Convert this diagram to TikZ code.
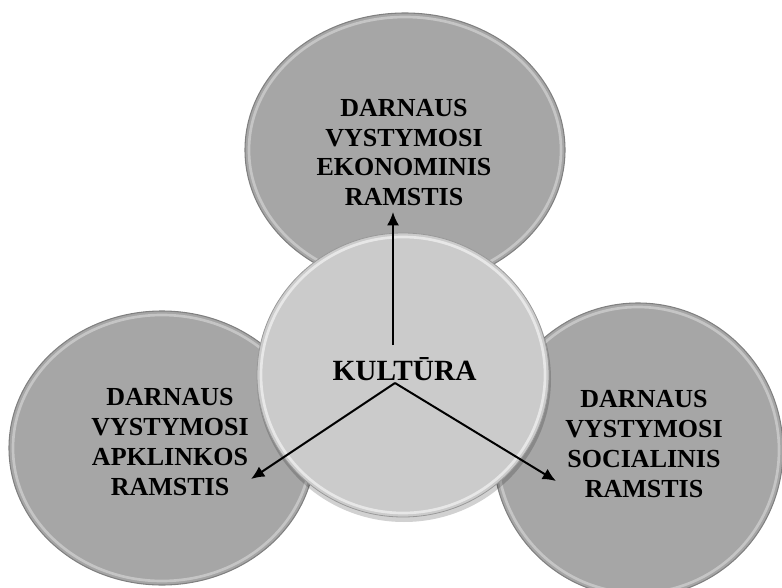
\documentclass[tikz,border=0pt]{standalone}
\usepackage{fontspec}
\setmainfont{Liberation Serif}
\usepackage{tikz}
\usetikzlibrary{arrows.meta}
\definecolor{ramstisgray}{RGB}{166,166,166}
\definecolor{kulturagray}{RGB}{203,203,203}
\definecolor{rimgray}{RGB}{128,128,128}

\begin{document}
\begin{tikzpicture}[>={Latex[length=10pt,width=9pt]}, x=0.75pt, y=-0.75pt,
	ramstis/.style={fill=ramstisgray, draw=rimgray, line width=0.8pt},
	kultura/.style={fill=kulturagray, draw=rimgray!80, line width=0.6pt},
	bevel/.style={draw=white, opacity=0.35, line width=2pt},
	pillar/.style={font=\bfseries\fontsize{19.5}{22.3}\selectfont, align=center, inner sep=0pt},
	link/.style={->, line width=1.5pt}]
%	\draw [help lines] (0,0) grid (782,588);
	\useasboundingbox (0,0) rectangle (782,588);
	\begin{scope}
	\clip (0,0) rectangle (782,588);
	% the three pillars
	\draw [ramstis] (405,150) ellipse [x radius=160, y radius=137];
	\draw [bevel] (405,150) ellipse [x radius=156, y radius=133];
	\draw [ramstis] (162,448) ellipse [x radius=153, y radius=137];
	\draw [bevel] (162,448) ellipse [x radius=149, y radius=133];
	\draw [ramstis] (638,450) ellipse [x radius=145, y radius=147];
	\draw [bevel] (638,450) ellipse [x radius=141, y radius=143];
	% culture in the middle
	\fill [black, opacity=0.18] (404,379) ellipse [x radius=147, y radius=143];
	\draw [kultura] (403,375) ellipse [x radius=146, y radius=142];
	\draw [bevel, opacity=0.55] (403,375) ellipse [x radius=142, y radius=138];
	\end{scope}

	\node [pillar] (ekon) at (404,152.5) {DARNAUS\\VYSTYMOSI\\EKONOMINIS\\RAMSTIS};
	\node [pillar] (aplink) at (170,442) {DARNAUS\\VYSTYMOSI\\APKLINKOS\\RAMSTIS};
	\node [pillar] (social) at (644,444) {DARNAUS\\VYSTYMOSI\\SOCIALINIS\\RAMSTIS};
	\node [font=\bfseries\fontsize{22}{26}\selectfont, inner sep=0pt, anchor=base] (kult) at (404.5,380) {KULTŪRA};

	\coordinate (hubup) at (393,345);
	\coordinate (hubdown) at (395,383);
	\coordinate (tipup) at (393,212);
	\coordinate (tipleft) at (251,479);
	\coordinate (tipright) at (556,481);
	\draw [link] (hubup) -- (tipup);
	\draw [link] (hubdown) -- (tipleft);
	\draw [link] (hubdown) -- (tipright);
\end{tikzpicture}
\end{document}
